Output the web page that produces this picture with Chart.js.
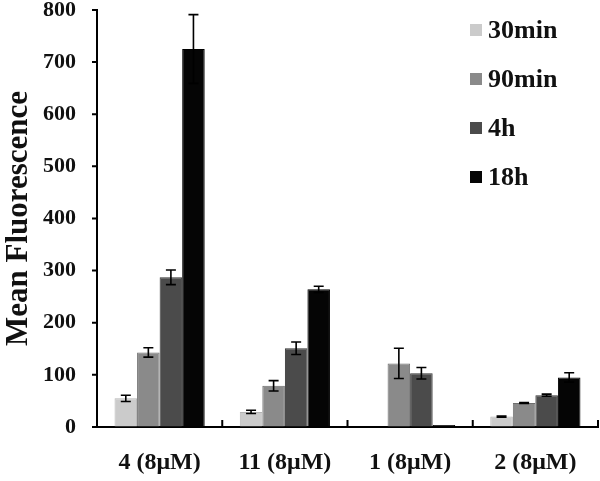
<!DOCTYPE html>
<html>
<head>
<meta charset="utf-8">
<script src="https://cdn.jsdelivr.net/npm/chart.js@4"></script>
<style>
  html, body { margin: 0; padding: 0; background: #fff; }
  #wrap { width: 600px; height: 481px; }
</style>
</head>
<body>
<div id="wrap"><canvas id="fluoChart"></canvas></div>
<script>
// values
const categories = ["4 (8\u03bcM)", "11 (8\u03bcM)", "1 (8\u03bcM)", "2 (8\u03bcM)"];
const seriesLabels = ["30min", "90min", "4h", "18h"];
const min30 = [55, 29, 0, 20];
const min90 = [143, 79, 122, 46];
const h4 = [287, 151, 103, 61];
const h18 = [725, 264, 4, 95];
const err30 = [6, 3, 0, 1];
const err90 = [9, 10, 29, 1];
const err4h = [14, 12, 11, 2];
const err18h = [66, 6, 0, 9];
const yTicks = [0, 100, 200, 300, 400, 500, 600, 700, 800];

const fills = ["#cbcbcb", "#8a8a8a", "#4b4b4b", "#050505"];
const edges = ["#b5b5b5", "#6e6e6e", "#333333", "#000000"];
const serif = "'Liberation Serif', 'Times New Roman', serif";

const values = [min30, min90, h4, h18];
const errors = [err30, err90, err4h, err18h];

const errorBars = {
  id: "errorBars",
  afterDatasetsDraw(chart) {
    const ctx = chart.ctx;
    const y = chart.scales.y;
    ctx.save();
    ctx.strokeStyle = "#000";
    ctx.lineWidth = 1.6;
    chart.data.datasets.forEach((ds, i) => {
      chart.getDatasetMeta(i).data.forEach((bar, j) => {
        const e = ds.errors[j];
        if (!e) return;
        const v = ds.data[j];
        const top = y.getPixelForValue(v + e);
        const bot = y.getPixelForValue(v - e);
        ctx.beginPath();
        ctx.moveTo(bar.x, top); ctx.lineTo(bar.x, bot);
        ctx.moveTo(bar.x - 5, top); ctx.lineTo(bar.x + 5, top);
        ctx.moveTo(bar.x - 5, bot); ctx.lineTo(bar.x + 5, bot);
        ctx.stroke();
      });
    });
    ctx.restore();
  }
};

// short y ticks, upward ticks between the categories, and the legend box
const decorations = {
  id: "decorations",
  afterDraw(chart) {
    const ctx = chart.ctx;
    const x = chart.scales.x;
    const y = chart.scales.y;
    const area = chart.chartArea;
    ctx.save();
    ctx.strokeStyle = "#000";
    ctx.lineWidth = 2;
    ctx.beginPath();
    yTicks.forEach((v) => {
      const py = y.getPixelForValue(v);
      ctx.moveTo(area.left, py);
      ctx.lineTo(area.left - 5, py);
    });
    for (let i = 1; i <= categories.length; i++) {
      const px = x.getPixelForValue(i - 0.5);
      ctx.moveTo(px, area.bottom);
      ctx.lineTo(px, area.bottom - 7);
    }
    ctx.stroke();
    ctx.font = "bold 26px " + serif;
    ctx.textBaseline = "middle";
    ctx.textAlign = "left";
    chart.data.datasets.forEach((ds, i) => {
      const cy = 30 + i * 49;
      ctx.fillStyle = ds.backgroundColor;
      ctx.fillRect(470, cy - 6, 12, 12);
      ctx.fillStyle = "#111";
      ctx.fillText(ds.label, 488, cy + 1);
    });
    ctx.restore();
  }
};

new Chart(document.getElementById("fluoChart"), {
  type: "bar",
  data: {
    labels: categories,
    datasets: seriesLabels.map((name, i) => ({
      label: name,
      data: values[i],
      errors: errors[i],
      backgroundColor: fills[i],
      borderColor: edges[i],
      borderWidth: 1,
      categoryPercentage: 0.72,
      barPercentage: 1.0,
    })),
  },
  options: {
    responsive: true,
    maintainAspectRatio: false,
    animation: false,
    layout: { padding: { top: 0, right: 2, left: 0, bottom: 0 } },
    plugins: {
      legend: { display: false },
      tooltip: { enabled: false },
    },
    scales: {
      x: {
        grid: { display: false, drawTicks: false },
        border: { display: true, color: "#000", width: 2 },
        ticks: {
          color: "#111",
          padding: 21,
          font: { family: serif, size: 24, weight: "bold" },
        },
        afterFit: (s) => { s.height = 54; },
      },
      y: {
        min: 0,
        max: 800,
        afterBuildTicks: (s) => { s.ticks = yTicks.map((v) => ({ value: v })); },
        grid: { drawOnChartArea: false, drawTicks: true, tickLength: 21, tickColor: "rgba(0,0,0,0)" },
        border: { display: true, color: "#000", width: 2 },
        ticks: {
          color: "#111",
          padding: 0,
          font: { family: serif, size: 22, weight: "bold", lineHeight: 0.9 },
        },
        title: {
          display: true,
          text: "Mean Fluorescence",
          color: "#111",
          padding: { top: 0, bottom: 0 },
          font: { family: serif, size: 31, weight: "bold" },
        },
        afterFit: (s) => { s.width = 97; },
      },
    },
  },
  plugins: [errorBars, decorations],
});
</script>
</body>
</html>
